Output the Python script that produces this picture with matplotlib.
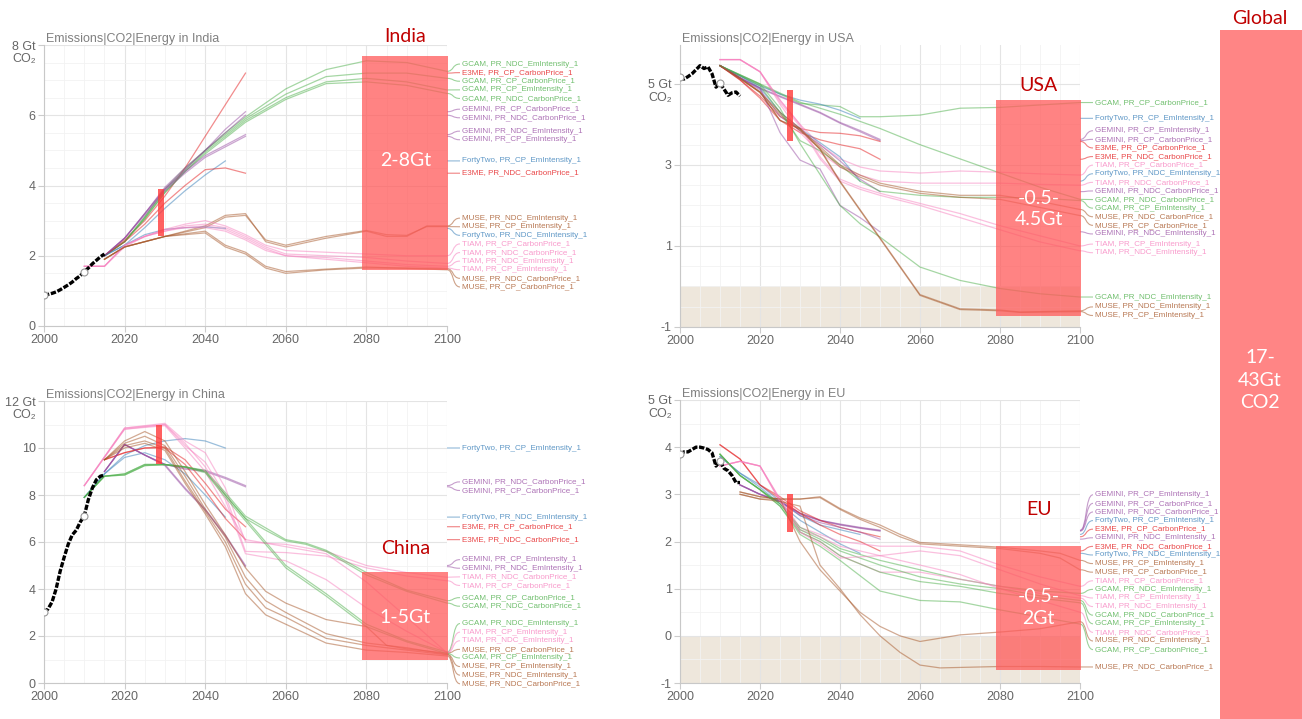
import numpy as np
import matplotlib
matplotlib.use("Agg")
import matplotlib.pyplot as plt
import matplotlib.transforms as mtransforms
from matplotlib.path import Path
from matplotlib.patches import PathPatch, Rectangle

plt.rcParams['font.family'] = ['Liberation Sans', 'DejaVu Sans']

FIG_W, FIG_H = 1302, 719

MODEL_COLORS = {
    'GCAM': '#4daf4a',
    'E3ME': '#e41a1c',
    'GEMINI': '#984ea3',
    'FortyTwo': '#377eb8',
    'MUSE': '#a65628',
    'TIAM': '#f781bf',
}

# historical emissions, Gt CO2
HIST_YEARS = list(range(2000, 2016))
INDIA_HIST = [0.88, 0.9, 0.93, 0.97, 1.03, 1.1, 1.17, 1.25, 1.35, 1.43, 1.55, 1.65, 1.77, 1.87, 1.97, 2.05]
USA_HIST = [5.18, 5.12, 5.18, 5.25, 5.35, 5.45, 5.38, 5.42, 5.25, 4.92, 5.02, 4.87, 4.72, 4.78, 4.8, 4.7]
CHINA_HIST = [3.02, 3.15, 3.45, 4.0, 4.75, 5.35, 5.9, 6.3, 6.5, 6.85, 7.12, 7.8, 8.3, 8.65, 8.8, 8.85]
EU_HIST = [3.85, 3.9, 3.9, 3.95, 4.0, 4.0, 3.98, 3.95, 3.88, 3.6, 3.7, 3.55, 3.5, 3.4, 3.25, 3.25]

# scenario runs: (model, scenario, years, values)
Y5_50 = [2015, 2020, 2025, 2030, 2035, 2040, 2045, 2050]
Y5_45 = [2015, 2020, 2025, 2030, 2035, 2040, 2045]
IN_GCAM_Y = [2015, 2020, 2025, 2030, 2035, 2040, 2045, 2050, 2060, 2070, 2080, 2090, 2100]
IN_MUSE_Y = [2015, 2020, 2030, 2040, 2045, 2050, 2055, 2060, 2070, 2080, 2085, 2090, 2095, 2100]
IN_TIAM_Y = [2010, 2015, 2020, 2025, 2030, 2035, 2040, 2045, 2050, 2055, 2060, 2070, 2080, 2090, 2100]

INDIA_SERIES = [
    ('GCAM', 'PR_NDC_EmIntensity_1', IN_GCAM_Y, [2.0, 2.4, 3.1, 3.9, 4.5, 5.0, 5.5, 5.95, 6.75, 7.3, 7.55, 7.5, 7.25]),
    ('E3ME', 'PR_CP_CarbonPrice_1', Y5_50, [2.0, 2.45, 3.0, 3.7, 4.5, 5.4, 6.3, 7.2]),
    ('GCAM', 'PR_CP_CarbonPrice_1', IN_GCAM_Y, [2.0, 2.4, 3.1, 3.85, 4.45, 5.0, 5.45, 5.9, 6.6, 7.1, 7.2, 7.2, 7.05]),
    ('GCAM', 'PR_CP_EmIntensity_1', IN_GCAM_Y, [2.0, 2.4, 3.05, 3.8, 4.4, 4.95, 5.4, 5.85, 6.5, 6.95, 7.05, 6.95, 6.72]),
    ('GCAM', 'PR_NDC_CarbonPrice_1', IN_GCAM_Y, [2.0, 2.4, 3.05, 3.8, 4.4, 4.9, 5.35, 5.8, 6.45, 6.9, 6.95, 6.85, 6.62]),
    ('GEMINI', 'PR_CP_CarbonPrice_1', Y5_50, [2.0, 2.5, 3.2, 3.95, 4.5, 5.0, 5.6, 6.1]),
    ('GEMINI', 'PR_NDC_CarbonPrice_1', Y5_50, [2.0, 2.5, 3.2, 3.9, 4.45, 5.0, 5.5, 6.0]),
    ('GEMINI', 'PR_NDC_EmIntensity_1', Y5_50, [2.0, 2.5, 3.2, 3.9, 4.4, 4.85, 5.15, 5.45]),
    ('GEMINI', 'PR_CP_EmIntensity_1', Y5_50, [2.0, 2.5, 3.15, 3.85, 4.35, 4.8, 5.1, 5.4]),
    ('FortyTwo', 'PR_CP_EmIntensity_1', Y5_45, [2.0, 2.3, 2.8, 3.35, 3.85, 4.3, 4.7]),
    ('E3ME', 'PR_NDC_CarbonPrice_1', Y5_50, [2.0, 2.4, 2.9, 3.5, 4.0, 4.45, 4.5, 4.35]),
    ('MUSE', 'PR_NDC_EmIntensity_1', IN_MUSE_Y, [1.9, 2.25, 2.55, 2.85, 3.15, 3.2, 2.4, 2.25, 2.5, 2.7, 2.55, 2.55, 2.85, 2.85]),
    ('MUSE', 'PR_CP_EmIntensity_1', IN_MUSE_Y, [1.9, 2.25, 2.55, 2.8, 3.1, 3.15, 2.45, 2.3, 2.55, 2.72, 2.6, 2.58, 2.83, 2.83]),
    ('FortyTwo', 'PR_NDC_EmIntensity_1', Y5_45, [2.0, 2.3, 2.6, 2.75, 2.8, 2.82, 2.78]),
    ('TIAM', 'PR_CP_CarbonPrice_1', IN_TIAM_Y, [1.7, 1.7, 2.25, 2.55, 2.75, 2.9, 3.0, 2.85, 2.6, 2.3, 2.15, 2.1, 2.05, 2.0, 2.0]),
    ('TIAM', 'PR_NDC_CarbonPrice_1', IN_TIAM_Y, [1.7, 1.7, 2.3, 2.55, 2.7, 2.85, 2.9, 2.8, 2.55, 2.25, 2.05, 2.0, 1.95, 1.85, 1.78]),
    ('TIAM', 'PR_NDC_EmIntensity_1', IN_TIAM_Y, [1.7, 1.7, 2.3, 2.55, 2.75, 2.8, 2.85, 2.75, 2.5, 2.2, 2.0, 1.95, 1.85, 1.75, 1.7]),
    ('TIAM', 'PR_CP_EmIntensity_1', IN_TIAM_Y, [1.7, 1.7, 2.3, 2.55, 2.7, 2.8, 2.8, 2.7, 2.45, 2.15, 2.0, 1.9, 1.8, 1.7, 1.65]),
    ('MUSE', 'PR_NDC_CarbonPrice_1', IN_MUSE_Y, [1.9, 2.25, 2.55, 2.65, 2.25, 2.05, 1.65, 1.5, 1.6, 1.65, 1.65, 1.65, 1.64, 1.63]),
    ('MUSE', 'PR_CP_CarbonPrice_1', IN_MUSE_Y, [1.9, 2.25, 2.55, 2.7, 2.3, 2.1, 1.7, 1.55, 1.62, 1.68, 1.66, 1.64, 1.62, 1.6]),
]

U10_50 = [2010, 2015, 2020, 2025, 2030, 2035, 2040, 2045, 2050]
U10_45 = [2010, 2015, 2020, 2025, 2030, 2035, 2040, 2045]
US_TIAM_Y = [2010, 2015, 2020, 2025, 2030, 2035, 2040, 2045, 2050, 2060, 2070, 2080, 2090, 2100]
US_MUSE_Y = [2010, 2015, 2020, 2025, 2030, 2035, 2040, 2045, 2050, 2060, 2070, 2080, 2090, 2100]
US_MUSE_EI_Y = [2010, 2020, 2025, 2030, 2035, 2040, 2045, 2050, 2055, 2060, 2070, 2080, 2085, 2100]

USA_SERIES = [
    ('GCAM', 'PR_CP_CarbonPrice_1', [2010, 2020, 2030, 2040, 2045, 2050, 2060, 2070, 2080, 2090, 2100],
     [5.45, 4.98, 4.52, 4.44, 4.19, 4.19, 4.23, 4.4, 4.42, 4.48, 4.54]),
    ('FortyTwo', 'PR_CP_EmIntensity_1', U10_45, [5.45, 5.2, 4.95, 4.75, 4.6, 4.5, 4.35, 4.15]),
    ('GEMINI', 'PR_CP_EmIntensity_1', U10_50, [5.45, 5.15, 4.9, 4.7, 4.5, 4.3, 4.05, 3.85, 3.63]),
    ('GEMINI', 'PR_CP_CarbonPrice_1', U10_50, [5.45, 5.15, 4.88, 4.68, 4.48, 4.28, 4.03, 3.82, 3.6]),
    ('E3ME', 'PR_CP_CarbonPrice_1', U10_50, [5.45, 5.1, 4.7, 4.2, 3.9, 3.8, 3.78, 3.72, 3.58]),
    ('E3ME', 'PR_NDC_CarbonPrice_1', U10_50, [5.45, 5.1, 4.65, 4.1, 3.8, 3.62, 3.5, 3.4, 3.14]),
    ('TIAM', 'PR_CP_CarbonPrice_1', US_TIAM_Y, [5.6, 5.6, 5.3, 4.6, 4.0, 3.5, 3.15, 2.95, 2.85, 2.8, 2.85, 2.82, 2.78, 2.75]),
    ('FortyTwo', 'PR_NDC_EmIntensity_1', U10_45, [5.45, 5.2, 4.9, 4.3, 3.9, 3.55, 3.2, 2.6]),
    ('TIAM', 'PR_NDC_CarbonPrice_1', US_TIAM_Y, [5.6, 5.6, 5.3, 4.5, 3.8, 3.3, 2.95, 2.75, 2.6, 2.55, 2.55, 2.55, 2.52, 2.5]),
    ('GEMINI', 'PR_NDC_CarbonPrice_1', U10_50, [5.45, 5.15, 4.85, 4.2, 3.85, 3.5, 3.1, 2.65, 2.34]),
    ('GCAM', 'PR_NDC_CarbonPrice_1', [2010, 2020, 2030, 2040, 2050, 2060, 2070, 2080, 2090, 2100],
     [5.45, 5.0, 4.55, 4.25, 3.9, 3.5, 3.15, 2.8, 2.45, 2.15]),
    ('GCAM', 'PR_CP_EmIntensity_1', [2010, 2020, 2025, 2030, 2035, 2040, 2045, 2050, 2060, 2070, 2080, 2090, 2100],
     [5.45, 4.95, 4.3, 3.6, 3.35, 3.0, 2.6, 2.35, 2.25, 2.2, 2.2, 2.18, 2.12]),
    ('MUSE', 'PR_NDC_CarbonPrice_1', US_MUSE_Y, [5.45, 5.15, 4.8, 4.3, 3.9, 3.45, 3.0, 2.75, 2.55, 2.35, 2.25, 2.25, 2.1, 1.9]),
    ('MUSE', 'PR_CP_CarbonPrice_1', US_MUSE_Y, [5.45, 5.15, 4.78, 4.25, 3.85, 3.4, 2.95, 2.7, 2.5, 2.3, 2.2, 2.15, 1.95, 1.75]),
    ('GEMINI', 'PR_NDC_EmIntensity_1', U10_50, [5.45, 5.15, 4.9, 3.8, 3.12, 2.9, 2.0, 1.7, 1.35]),
    ('TIAM', 'PR_CP_EmIntensity_1', US_TIAM_Y, [5.6, 5.6, 5.3, 4.6, 4.0, 3.2, 2.65, 2.45, 2.3, 2.05, 1.8, 1.5, 1.25, 1.0]),
    ('TIAM', 'PR_NDC_EmIntensity_1', US_TIAM_Y, [5.6, 5.6, 5.3, 4.55, 3.95, 3.15, 2.6, 2.4, 2.25, 2.0, 1.7, 1.4, 1.1, 0.88]),
    ('GCAM', 'PR_NDC_EmIntensity_1', [2010, 2020, 2025, 2030, 2040, 2045, 2050, 2060, 2070, 2080, 2090, 2100],
     [5.45, 5.0, 4.4, 3.53, 2.0, 1.55, 1.22, 0.48, 0.15, -0.05, -0.18, -0.26]),
    ('MUSE', 'PR_NDC_EmIntensity_1', US_MUSE_EI_Y, [5.45, 4.8, 4.1, 3.9, 3.4, 2.6, 1.9, 1.2, 0.5, -0.2, -0.55, -0.58, -0.63, -0.6]),
    ('MUSE', 'PR_CP_EmIntensity_1', US_MUSE_EI_Y, [5.45, 4.8, 4.1, 3.88, 3.38, 2.58, 1.88, 1.18, 0.48, -0.22, -0.57, -0.6, -0.64, -0.62]),
]

C42_Y = [2010, 2015, 2020, 2025, 2030, 2035, 2040, 2045]
CN_TIAM_Y = [2010, 2020, 2030, 2035, 2040, 2045, 2050, 2060, 2070, 2080, 2090, 2100]
CN_GCAM_CP_Y = [2010, 2015, 2020, 2025, 2030, 2035, 2040, 2045, 2050, 2055, 2060, 2065, 2070, 2080, 2090, 2100]
CN_GCAM_EI_Y = [2010, 2015, 2020, 2025, 2030, 2035, 2040, 2045, 2050, 2060, 2070, 2080, 2090, 2100]
CN_MUSE_Y = [2015, 2020, 2025, 2030, 2035, 2040, 2045, 2050, 2055, 2060, 2070, 2080, 2085, 2090, 2100]

CHINA_SERIES = [
    ('FortyTwo', 'PR_CP_EmIntensity_1', C42_Y, [7.9, 8.9, 9.7, 10.1, 10.3, 10.4, 10.3, 10.0]),
    ('GEMINI', 'PR_NDC_CarbonPrice_1', Y5_50, [9.0, 10.15, 9.7, 9.3, 9.15, 9.05, 8.75, 8.4]),
    ('GEMINI', 'PR_CP_CarbonPrice_1', Y5_50, [9.0, 10.15, 9.7, 9.3, 9.1, 9.0, 8.7, 8.35]),
    ('FortyTwo', 'PR_NDC_EmIntensity_1', C42_Y, [7.9, 8.9, 9.6, 9.8, 9.5, 8.9, 8.0, 7.06]),
    ('E3ME', 'PR_CP_CarbonPrice_1', Y5_50, [9.5, 9.8, 10.0, 10.05, 9.5, 8.5, 7.4, 6.65]),
    ('E3ME', 'PR_NDC_CarbonPrice_1', Y5_50, [9.5, 9.8, 10.0, 10.0, 9.3, 8.2, 7.0, 6.1]),
    ('GEMINI', 'PR_CP_EmIntensity_1', Y5_50, [9.0, 10.15, 9.7, 9.3, 8.3, 7.4, 6.3, 5.0]),
    ('GEMINI', 'PR_NDC_EmIntensity_1', Y5_50, [9.0, 10.15, 9.7, 9.25, 8.25, 7.35, 6.25, 4.95]),
    ('TIAM', 'PR_NDC_CarbonPrice_1', CN_TIAM_Y, [8.4, 10.85, 11.05, 10.3, 9.8, 8.3, 6.0, 5.9, 5.6, 5.0, 4.7, 4.5]),
    ('TIAM', 'PR_CP_CarbonPrice_1', CN_TIAM_Y, [8.4, 10.85, 11.0, 10.1, 9.4, 8.0, 5.6, 5.55, 5.4, 4.9, 4.55, 4.35]),
    ('GCAM', 'PR_CP_CarbonPrice_1', CN_GCAM_CP_Y, [7.9, 8.8, 8.9, 9.3, 9.3, 9.2, 9.05, 8.1, 7.1, 6.6, 6.1, 5.95, 5.65, 4.7, 3.95, 3.5]),
    ('GCAM', 'PR_NDC_CarbonPrice_1', CN_GCAM_CP_Y, [7.9, 8.8, 8.85, 9.25, 9.3, 9.2, 9.0, 8.0, 7.0, 6.5, 6.05, 5.9, 5.6, 4.6, 3.9, 3.4]),
    ('GCAM', 'PR_NDC_EmIntensity_1', CN_GCAM_EI_Y, [7.9, 8.8, 8.9, 9.3, 9.3, 9.2, 9.0, 8.0, 7.0, 5.0, 3.8, 2.5, 1.8, 1.32]),
    ('TIAM', 'PR_CP_EmIntensity_1', CN_TIAM_Y, [8.4, 10.8, 11.0, 10.2, 9.2, 7.8, 5.5, 5.2, 4.4, 3.2, 2.2, 1.3]),
    ('TIAM', 'PR_NDC_EmIntensity_1', CN_TIAM_Y, [8.4, 10.8, 10.95, 10.0, 9.0, 7.5, 6.1, 5.8, 5.5, 4.3, 2.8, 1.28]),
    ('MUSE', 'PR_CP_CarbonPrice_1', CN_MUSE_Y, [9.5, 10.3, 10.7, 10.3, 9.0, 7.6, 6.3, 4.9, 3.9, 3.4, 2.7, 2.4, 1.6, 1.45, 1.27]),
    ('GCAM', 'PR_CP_EmIntensity_1', CN_GCAM_EI_Y, [7.9, 8.8, 8.85, 9.25, 9.28, 9.18, 8.95, 7.9, 6.9, 4.9, 3.7, 2.4, 1.75, 1.25]),
    ('MUSE', 'PR_CP_EmIntensity_1', CN_MUSE_Y, [9.5, 10.2, 10.5, 10.1, 8.8, 7.4, 6.2, 4.5, 3.5, 3.0, 2.1, 1.7, 1.6, 1.5, 1.22]),
    ('MUSE', 'PR_NDC_EmIntensity_1', CN_MUSE_Y, [9.5, 10.1, 10.3, 10.0, 8.6, 7.3, 6.0, 4.2, 3.2, 2.8, 1.9, 1.6, 1.5, 1.4, 1.2]),
    ('MUSE', 'PR_NDC_CarbonPrice_1', CN_MUSE_Y, [9.5, 10.0, 10.2, 9.9, 8.5, 7.2, 5.8, 3.8, 2.9, 2.5, 1.7, 1.4, 1.35, 1.3, 1.15]),
]

EU_LONG_Y = [2010, 2015, 2020, 2025, 2030, 2035, 2040, 2050, 2060, 2070, 2080, 2090, 2100]
EU_MUSE_CP_Y = [2015, 2020, 2025, 2030, 2035, 2040, 2045, 2050, 2055, 2060, 2070, 2080, 2090, 2095, 2100]
EU_MUSE_EI_Y = [2015, 2020, 2025, 2030, 2035, 2040, 2045, 2050, 2055, 2060, 2070, 2080, 2090, 2100]
EU_MUSE_NDC_Y = [2015, 2020, 2025, 2030, 2035, 2040, 2045, 2050, 2055, 2060, 2065, 2080, 2090, 2100]

EU_SERIES = [
    ('GEMINI', 'PR_CP_EmIntensity_1', Y5_50, [3.2, 3.0, 2.85, 2.6, 2.45, 2.37, 2.3, 2.24]),
    ('GEMINI', 'PR_CP_CarbonPrice_1', Y5_50, [3.2, 3.0, 2.85, 2.6, 2.45, 2.36, 2.29, 2.23]),
    ('GEMINI', 'PR_NDC_CarbonPrice_1', Y5_50, [3.2, 3.0, 2.85, 2.58, 2.44, 2.35, 2.28, 2.22]),
    ('FortyTwo', 'PR_CP_EmIntensity_1', C42_Y, [3.8, 3.45, 3.2, 2.85, 2.55, 2.35, 2.25, 2.15]),
    ('E3ME', 'PR_CP_CarbonPrice_1', U10_50, [4.05, 3.75, 3.2, 2.95, 2.65, 2.45, 2.3, 2.2, 2.1]),
    ('GEMINI', 'PR_NDC_EmIntensity_1', Y5_50, [3.2, 3.0, 2.85, 2.55, 2.4, 2.3, 2.2, 2.05]),
    ('E3ME', 'PR_NDC_CarbonPrice_1', U10_50, [4.05, 3.75, 3.2, 2.9, 2.6, 2.35, 2.15, 2.0, 1.8]),
    ('FortyTwo', 'PR_NDC_EmIntensity_1', C42_Y, [3.8, 3.45, 3.15, 2.8, 2.45, 2.2, 1.95, 1.75]),
    ('MUSE', 'PR_CP_EmIntensity_1', EU_MUSE_CP_Y, [3.05, 2.95, 2.9, 2.9, 2.95, 2.7, 2.5, 2.35, 2.15, 1.98, 1.93, 1.88, 1.8, 1.75, 1.6]),
    ('MUSE', 'PR_CP_CarbonPrice_1', EU_MUSE_CP_Y, [3.05, 2.95, 2.9, 2.9, 2.93, 2.68, 2.47, 2.3, 2.1, 1.95, 1.9, 1.85, 1.75, 1.65, 1.4]),
    ('TIAM', 'PR_CP_CarbonPrice_1', EU_LONG_Y, [3.6, 3.7, 3.6, 2.9, 2.3, 2.15, 2.0, 1.9, 1.9, 1.8, 1.5, 1.25, 1.05]),
    ('GCAM', 'PR_NDC_EmIntensity_1', EU_LONG_Y, [3.85, 3.4, 3.1, 2.8, 2.3, 2.1, 1.85, 1.6, 1.4, 1.2, 1.05, 0.95, 0.9]),
    ('TIAM', 'PR_CP_EmIntensity_1', EU_LONG_Y, [3.6, 3.7, 3.6, 2.9, 2.25, 2.1, 1.9, 1.7, 1.8, 1.7, 1.4, 1.1, 0.85]),
    ('TIAM', 'PR_NDC_EmIntensity_1', EU_LONG_Y, [3.6, 3.7, 3.6, 2.85, 2.2, 2.0, 1.7, 1.35, 1.35, 1.2, 1.05, 0.9, 0.8]),
    ('GCAM', 'PR_NDC_CarbonPrice_1', EU_LONG_Y, [3.85, 3.4, 3.1, 2.8, 2.25, 2.05, 1.8, 1.5, 1.25, 1.1, 1.0, 0.85, 0.75]),
    ('GCAM', 'PR_CP_EmIntensity_1', EU_LONG_Y, [3.85, 3.4, 3.1, 2.75, 2.2, 2.0, 1.7, 1.35, 1.15, 1.05, 0.9, 0.8, 0.7]),
    ('TIAM', 'PR_NDC_CarbonPrice_1', EU_LONG_Y, [3.6, 3.7, 3.6, 2.85, 2.2, 1.95, 1.65, 1.7, 1.5, 1.3, 1.0, 0.75, 0.5]),
    ('MUSE', 'PR_NDC_EmIntensity_1', EU_MUSE_EI_Y, [3.0, 2.9, 2.9, 2.0, 1.4, 0.95, 0.5, 0.2, 0.0, -0.12, 0.02, 0.08, 0.15, 0.3]),
    ('GCAM', 'PR_CP_CarbonPrice_1', EU_LONG_Y, [3.85, 3.4, 3.1, 2.75, 2.15, 1.9, 1.6, 0.95, 0.75, 0.72, 0.55, 0.4, 0.25]),
    ('MUSE', 'PR_NDC_CarbonPrice_1', EU_MUSE_NDC_Y, [3.0, 2.9, 2.85, 2.75, 1.5, 1.0, 0.45, 0.0, -0.35, -0.62, -0.68, -0.65, -0.65, -0.66]),
]

# 2080-2100 ranges and near-term (year, low, high) bars
INDIA_RANGE = (1.6, 7.7)
USA_RANGE = (-0.73, 4.6)
CHINA_RANGE = (0.98, 4.72)
EU_RANGE = (-0.72, 1.91)
INDIA_NEAR = (2029, 2.55, 3.9)
USA_NEAR = (2027.5, 3.6, 4.85)
CHINA_NEAR = (2028.5, 9.3, 11.0)
EU_NEAR = (2027.5, 2.2, 3.0)


fig = plt.figure(figsize=(FIG_W / 100, FIG_H / 100), dpi=100)


def add_labels(ax, series):
    bb = ax.get_position()
    w_px = bb.width * FIG_W
    h_px = bb.height * FIG_H
    y0, y1 = ax.get_ylim()
    gap = 8.6 * (y1 - y0) / h_px
    ends = [s[3][-1] for s in series]
    order = sorted(range(len(series)), key=lambda i: -ends[i])
    groups = [[i] for i in order]

    def top(g):
        return np.mean([ends[i] for i in g]) + (len(g) - 1) * gap / 2

    # merge overlapping label stacks until every label has room
    changed = True
    while changed:
        changed = False
        for k in range(len(groups) - 1):
            a, b = groups[k], groups[k + 1]
            if top(a) - len(a) * gap < top(b):
                groups[k] = a + b
                del groups[k + 1]
                changed = True
                break

    trans = mtransforms.blended_transform_factory(ax.transAxes, ax.transData)
    for g in groups:
        t = top(g)
        for j, i in enumerate(g):
            model, scen = series[i][0], series[i][1]
            c = MODEL_COLORS[model]
            ly = t - j * gap
            verts = [(1, ends[i]), (1 + 7 / w_px, ends[i]), (1 + 5 / w_px, ly), (1 + 13 / w_px, ly)]
            path = Path(verts, [Path.MOVETO, Path.CURVE4, Path.CURVE4, Path.CURVE4])
            ax.add_patch(PathPatch(path, fc='none', ec=c, lw=0.8, alpha=0.55,
                                   transform=trans, clip_on=False))
            ax.text(1 + 15 / w_px, ly, f'{model}, {scen}', transform=trans, color=c,
                    fontsize=5.8, ha='left', va='center', alpha=0.8, clip_on=False)


def draw_panel(rect, region, ylim, yticks, minor_step, unit_tick, series, hist,
               rng, near, rng_text, name_y, rng_y, shade=False):
    ax = fig.add_axes(rect)
    ax.set_xlim(2000, 2100)
    ax.set_ylim(*ylim)
    ax.set_axisbelow(True)
    ax.set_xticks(range(2000, 2101, 20))
    ax.set_xticks(range(2000, 2101, 5), minor=True)
    labels = [f'{t:g} Gt' if t == unit_tick else f'{t:g}' for t in yticks]
    ax.set_yticks(yticks, labels=labels)
    ax.set_yticks(np.arange(ylim[0], ylim[1] + 1e-9, minor_step), minor=True)
    ax.grid(which='major', color='#e4e4e4', lw=0.8)
    ax.grid(which='minor', color='#f2f2f2', lw=0.6)
    for s in ['top', 'right']:
        ax.spines[s].set_visible(False)
    for s in ['left', 'bottom']:
        ax.spines[s].set_color('#c8c8c8')
    ax.tick_params(colors='#666666', labelsize=9, length=4, pad=2)
    ax.tick_params(which='both', color='#cccccc')
    ax.tick_params(which='minor', length=0)

    trans = mtransforms.blended_transform_factory(ax.transAxes, ax.transData)
    ax.annotate('CO₂', xy=(0, unit_tick), xycoords=trans, xytext=(-6, -10),
                textcoords='offset points', ha='right', va='center',
                color='#666666', fontsize=9)
    ax.text(0.005, 1.0, f'Emissions|CO2|Energy in {region}', transform=ax.transAxes,
            ha='left', va='bottom', color='#808080', fontsize=9)

    if shade:
        ax.axhspan(ylim[0], 0, color='#eee7dc', lw=0, zorder=0.5)

    for model, scen, yrs, vals in series:
        ax.plot(yrs, vals, color=MODEL_COLORS[model], lw=0.9, alpha=0.5, zorder=2)

    ax.plot(HIST_YEARS, hist, color='black', lw=2.4, dashes=(1.6, 0.5), zorder=4)
    ax.plot([HIST_YEARS[0], HIST_YEARS[10]], [hist[0], hist[10]], ls='none', marker='o',
            ms=5, mfc='white', mec='#999999', mew=0.8, zorder=5)

    ax.add_patch(Rectangle((2079, rng[0]), 21.3, rng[1] - rng[0], fc='#ff5a5a',
                           alpha=0.75, lw=0, zorder=3, clip_on=False))
    x, lo, hi = near
    ax.add_patch(Rectangle((x - 0.75, lo), 1.5, hi - lo, fc='#ff3a3a', alpha=0.8,
                           lw=0, zorder=3))

    ax.text(2089.7, name_y, region, color='#c00000', fontsize=14, family='Lato',
            ha='center', va='center', clip_on=False, zorder=6)
    ax.text(2089.7, rng_y, rng_text, color='white', fontsize=14, family='Lato',
            ha='center', va='center', linespacing=1.3, zorder=6)

    add_labels(ax, series)
    return ax


draw_panel([44 / FIG_W, 1 - 326 / FIG_H, 403 / FIG_W, 281 / FIG_H], 'India',
           (0, 8), [0, 2, 4, 6, 8], 0.5, 8, INDIA_SERIES, INDIA_HIST,
           INDIA_RANGE, INDIA_NEAR, '2-8Gt', 8.23, 4.7)
draw_panel([680 / FIG_W, 1 - 327 / FIG_H, 400 / FIG_W, 282 / FIG_H], 'USA',
           (-1, 5.96), [-1, 1, 3, 5], 0.5, 5, USA_SERIES, USA_HIST,
           USA_RANGE, USA_NEAR, '-0.5-\n4.5Gt', 4.97, 1.91, shade=True)
draw_panel([44 / FIG_W, 1 - 683 / FIG_H, 403 / FIG_W, 282 / FIG_H], 'China',
           (0, 12), [0, 2, 4, 6, 8, 10, 12], 1, 12, CHINA_SERIES, CHINA_HIST,
           CHINA_RANGE, CHINA_NEAR, '1-5Gt', 5.74, 2.8)
draw_panel([680 / FIG_W, 1 - 683 / FIG_H, 400 / FIG_W, 283 / FIG_H], 'EU',
           (-1, 5), [-1, 0, 1, 2, 3, 4, 5], 0.5, 5, EU_SERIES, EU_HIST,
           EU_RANGE, EU_NEAR, '-0.5-\n2Gt', 2.68, 0.6, shade=True)

# global total bar on the right edge
fig.add_artist(Rectangle((1220 / FIG_W, 0), 82 / FIG_W, 689 / FIG_H,
                         transform=fig.transFigure, fc='#ff8585', lw=0))
fig.text(1260 / FIG_W, 1 - 18 / FIG_H, 'Global', color='#c00000', fontsize=14,
         family='Lato', ha='center', va='center')
fig.text(1260 / FIG_W, 1 - 380 / FIG_H, '17-\n43Gt\nCO2', color='white', fontsize=14,
         family='Lato', ha='center', va='center', linespacing=1.4)

fig.savefig('out.png', dpi=100)
